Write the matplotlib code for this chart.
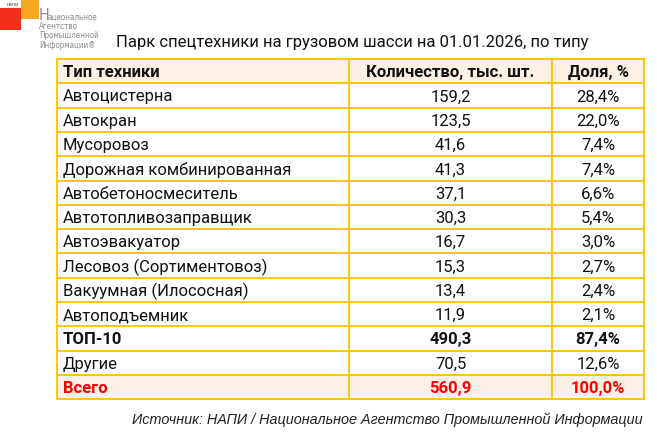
import matplotlib
matplotlib.use("Agg")
import matplotlib.pyplot as plt
from matplotlib.patches import Rectangle

plt.rcParams["font.family"] = ["Roboto", "DejaVu Sans"]

# data
types = ["Автоцистерна", "Автокран", "Мусоровоз", "Дорожная комбинированная",
         "Автобетоносмеситель", "Автотопливозаправщик", "Автоэвакуатор",
         "Лесовоз (Сортиментовоз)", "Вакуумная (Илососная)", "Автоподъемник",
         "ТОП-10", "Другие", "Всего"]
counts = [159.2, 123.5, 41.6, 41.3, 37.1, 30.3, 16.7, 15.3, 13.4, 11.9, 490.3, 70.5, 560.9]
shares = [28.4, 22.0, 7.4, 7.4, 6.6, 5.4, 3.0, 2.7, 2.4, 2.1, 87.4, 12.6, 100.0]
headers = ["Тип техники", "Количество, тыс. шт.", "Доля, %"]
title = "Парк спецтехники на грузовом шасси на 01.01.2026, по типу"
source = "Источник: НАПИ / Национальное Агентство Промышленной Информации"

GOLD = "#FFC000"
PEACH = "#FDF1E6"
RED = "#FF0000"
LOGO_GREY = "#8a8a8a"

fig = plt.figure(figsize=(6.57, 4.39), dpi=100)
ax = fig.add_axes([0, 0, 1, 1])
ax.set_xlim(0, 657)
ax.set_ylim(439, 0)
ax.axis("off")

# logo
ax.add_patch(Rectangle((0, 9), 21, 22, fc="#F2301B", ec="none"))
ax.add_patch(Rectangle((21, 0), 18, 20, fc="#F7A823", ec="none"))
ax.text(7, 5.5, "НАПИ", fontsize=3.2, color="#333", va="center", ha="left")
logo_font = dict(family="DejaVu Sans", fontstretch="condensed", color=LOGO_GREY,
                 va="baseline", ha="left")
ax.text(38.5, 20, "Н", fontsize=11.5, **logo_font)
ax.text(48, 20, "ациональное", fontsize=5.8, **logo_font)
for s, yb in zip(["Агентство", "Промышленной", "Информации®"], [29, 38.5, 48.5]):
    ax.text(39, yb, s, fontsize=5.8, **logo_font)

ax.text(352, 43, title, fontsize=12, ha="center", va="center", color="#111")

# table
x0, x1, x2, x3 = 57, 349, 552, 644
top, rh = 60, 24.3
nrows = len(types) + 1

ax.add_patch(Rectangle((x0, top), x3 - x0, rh, fc=PEACH, ec="none"))
ax.add_patch(Rectangle((x0, top + rh * (nrows - 1)), x3 - x0, rh, fc=PEACH, ec="none"))

def row_text(r, cells, weight="normal", color="#111"):
    yc = top + rh * (r + 0.5) + 0.5
    ax.text(x0 + 6, yc, cells[0], fontsize=12, fontweight=weight, color=color, va="center", ha="left")
    ax.text((x1 + x2) / 2, yc, cells[1], fontsize=12, fontweight=weight, color=color, va="center", ha="center")
    ax.text((x2 + x3) / 2, yc, cells[2], fontsize=12, fontweight=weight, color=color, va="center", ha="center")

row_text(0, headers, weight="bold")
for i, (t, c, s) in enumerate(zip(types, counts, shares)):
    cells = [t, f"{c:.1f}".replace(".", ","), f"{s:.1f}%".replace(".", ",")]
    if t == "ТОП-10":
        row_text(i + 1, cells, weight="bold")
    elif t == "Всего":
        row_text(i + 1, cells, weight="bold", color=RED)
    else:
        row_text(i + 1, cells)

for r in range(nrows + 1):
    y = top + rh * r
    ax.plot([x0, x3], [y, y], color=GOLD, lw=1.3, solid_capstyle="projecting")
for x in (x0, x1, x2, x3):
    ax.plot([x, x], [top, top + rh * nrows], color=GOLD, lw=1.3, solid_capstyle="projecting")

ax.text(643, 420, source, fontsize=10.4, style="italic", color="#222", ha="right", va="center",
        family=["Liberation Sans", "DejaVu Sans"])

fig.savefig("out.png", dpi=100)
